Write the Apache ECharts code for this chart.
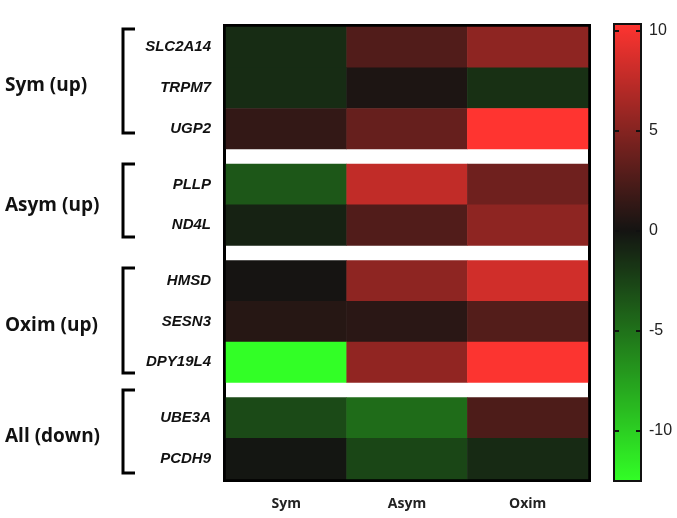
<!DOCTYPE html>
<html>
<head>
    <meta charset="utf-8">
    <title>Heatmap</title>
    <script src="https://cdn.jsdelivr.net/npm/echarts@6/dist/echarts.min.js"></script>
    <style>
        html, body { margin: 0; padding: 0; background: #fff; }
        #chart1 { width: 677px; height: 518px; }
    </style>
</head>
<body>
<div id="chart1"></div>
<script type="text/javascript">
    // data
    var conditions = ['Sym', 'Asym', 'Oxim'];
    var groupNames = ['Sym (up)', 'Asym (up)', 'Oxim (up)', 'All (down)'];
    var symGenes = ['SLC2A14', 'TRPM7', 'UGP2'];
    var asymGenes = ['PLLP', 'ND4L'];
    var oximGenes = ['HMSD', 'SESN3', 'DPY19L4'];
    var allGenes = ['UBE3A', 'PCDH9'];
    // one row per gene: [Sym, Asym, Oxim]
    var symValues = [[-1.3, 2.7, 5.4], [-1.3, 0.4, -1.5], [1.4, 3.6, 10.35]];
    var asymValues = [[-3.6, 7.6, 4.0], [-0.7, 2.7, 5.4]];
    var oximValues = [[0.1, 5.4, 8.3], [0.8, 1.0, 2.8], [-12.5, 5.5, 10.2]];
    var allValues = [[-2.9, -4.7, 2.5], [-0.1, -2.7, -1.2]];
    var scaleTicks = [-10, -5, 0, 5, 10];
    var scaleMin = -12.5, scaleMax = 10.35;

    var groupGenes = [symGenes, asymGenes, oximGenes, allGenes];
    var groupValues = [symValues, asymValues, oximValues, allValues];

    // layout
    var rowH = 40.7, gapH = 15, topY = 27, cellLeft = 226, cellW = 362;
    var bracketX = 123, bracketW = 12;
    var bracketSpans = [[29, 133], [164, 237], [268, 373], [390, 473]];
    var barLeft = 614, barW = 27;

    // green - black - red, black sitting at 0
    var red = [255, 52, 48], green = [50, 255, 38], black = [20, 20, 18];
    function colorAt(v) {
        var end = v < 0 ? green : red;
        var t = v < 0 ? v / scaleMin : v / scaleMax;
        var c = [];
        for (var k = 0; k < 3; k++) c.push(Math.round(black[k] + (end[k] - black[k]) * t));
        return 'rgb(' + c.join(',') + ')';
    }
    var stops = [], barStops = [];
    var n = 228;
    for (var i = 0; i <= n; i++) {
        var v = scaleMin + (scaleMax - scaleMin) * i / n;
        stops.push(colorAt(v));
        barStops.push({offset: 1 - i / n, color: colorAt(v)});
    }
    barStops.reverse();

    var grids = [], xAxes = [], yAxes = [], series = [], graphics = [];
    var y = topY;
    groupGenes.forEach(function (genes, g) {
        var h = genes.length * rowH;
        grids.push({left: cellLeft, top: y, width: cellW, height: h});
        xAxes.push({
            type: 'category', gridIndex: g, data: conditions,
            axisLine: {show: false}, axisTick: {show: false},
            axisLabel: {
                show: g === groupGenes.length - 1, margin: 18,
                fontFamily: 'Open Sans', fontWeight: 'bold', fontSize: 14, color: '#222'
            }
        });
        yAxes.push({
            type: 'category', gridIndex: g, data: genes, inverse: true,
            axisLine: {show: false}, axisTick: {show: false},
            axisLabel: {
                margin: 15, fontFamily: "'Liberation Sans Narrow', 'Liberation Sans', sans-serif",
                fontStyle: 'italic', fontWeight: 'bold', fontSize: 15, color: '#111'
            }
        });
        var data = [];
        groupValues[g].forEach(function (row, r) {
            row.forEach(function (v, c) { data.push([c, r, v]); });
        });
        series.push({
            type: 'heatmap', xAxisIndex: g, yAxisIndex: g, data: data,
            itemStyle: {borderWidth: 0}, emphasis: {disabled: true}
        });

        var span = bracketSpans[g];
        graphics.push({
            type: 'polyline', silent: true,
            shape: {points: [[bracketX + bracketW, span[0]], [bracketX, span[0]], [bracketX, span[1]], [bracketX + bracketW, span[1]]]},
            style: {stroke: '#000', lineWidth: 3, fill: null}
        });
        graphics.push({
            type: 'text', silent: true, x: 5, y: (span[0] + span[1]) / 2 + 5,
            style: {
                text: groupNames[g], fontFamily: 'Open Sans', fontWeight: 'bold',
                fontSize: 19, fill: '#111', verticalAlign: 'middle', align: 'left'
            }
        });
        y += h + gapH;
    });

    // colour scale (grid 4, gradient background + value axis) and outer frame (grid 5)
    grids.push({
        left: barLeft, top: 24, width: barW, height: 457, show: true,
        backgroundColor: new echarts.graphic.LinearGradient(0, 0, 0, 1, barStops),
        borderColor: '#111', borderWidth: 2
    });
    xAxes.push({type: 'value', gridIndex: 4, show: false});
    yAxes.push({
        type: 'value', gridIndex: 4, min: scaleMin, max: scaleMax, position: 'right',
        axisLine: {show: false}, splitLine: {show: false}, axisTick: {show: false},
        axisLabel: {
            margin: 8, fontFamily: 'Liberation Sans', fontSize: 16, color: '#222',
            customValues: scaleTicks
        }
    });
    grids.push({
        left: 224.5, top: 25.5, width: 365, height: 455, show: true,
        backgroundColor: 'transparent', borderColor: '#000', borderWidth: 3
    });
    xAxes.push({type: 'value', gridIndex: 5, show: false});
    yAxes.push({type: 'value', gridIndex: 5, show: false});

    var myChart1 = echarts.init(document.getElementById('chart1'));
    myChart1.setOption({
        backgroundColor: '#fff',
        animation: false,
        grid: grids,
        xAxis: xAxes,
        yAxis: yAxes,
        visualMap: {
            type: 'continuous', min: scaleMin, max: scaleMax, show: false,
            seriesIndex: [0, 1, 2, 3],
            inRange: {color: stops}
        },
        graphic: graphics,
        series: series
    });

    // small tick marks inside the colour bar, placed through the scale axis
    scaleTicks.forEach(function (t) {
        var py = myChart1.convertToPixel({yAxisIndex: 4}, t);
        graphics.push({
            type: 'line', silent: true, z: 100,
            shape: {x1: barLeft, y1: py, x2: barLeft + 5, y2: py},
            style: {stroke: '#111', lineWidth: 2}
        });
        graphics.push({
            type: 'line', silent: true, z: 100,
            shape: {x1: barLeft + barW - 5, y1: py, x2: barLeft + barW, y2: py},
            style: {stroke: '#111', lineWidth: 2}
        });
    });
    myChart1.setOption({graphic: graphics});
</script>
</body>
</html>
